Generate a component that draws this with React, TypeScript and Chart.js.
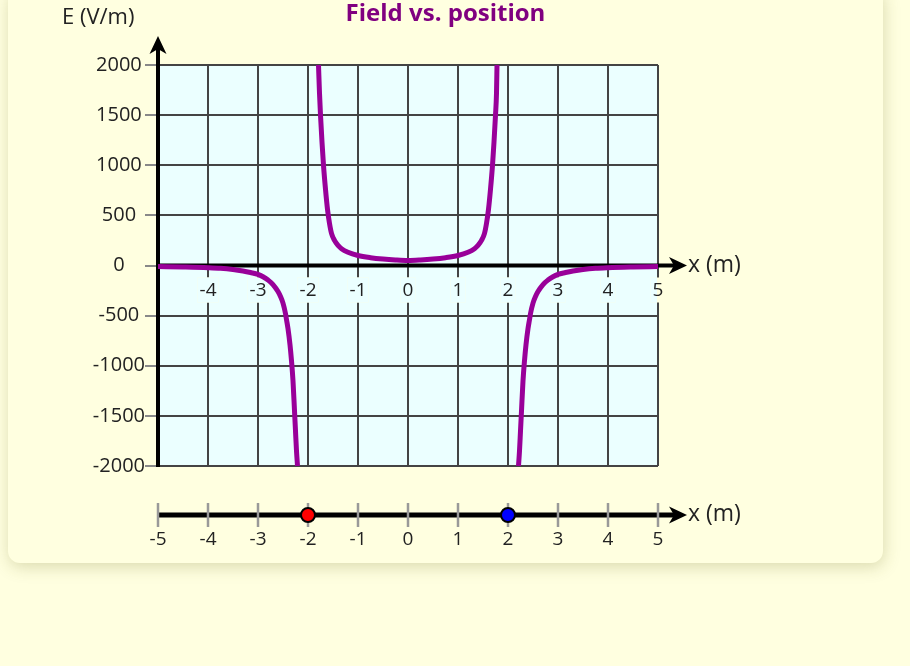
import React, { useEffect, useRef } from 'react';
import { Chart, registerables } from 'chart.js';

Chart.register(...registerables);

// ---- data ----
const X_TICKS = [-5, -4, -3, -2, -1, 0, 1, 2, 3, 4, 5];
const Y_TICKS = [-2000, -1500, -1000, -500, 0, 500, 1000, 1500, 2000];

const LEFT_X = [-5, -4.5, -4, -3.75, -3.5, -3.3, -3.15, -3, -2.9, -2.8, -2.7, -2.6, -2.55, -2.5, -2.45, -2.43, -2.4, -2.36, -2.33, -2.3, -2.27, -2.25, -2.23, -2.21];
const LEFT_E = [-10, -15, -22, -28, -40, -55, -70, -88, -112, -145, -190, -260, -310, -375, -480, -540, -630, -790, -950, -1150, -1450, -1650, -1850, -2000];

const MID_X = [-1.79, -1.77, -1.75, -1.72, -1.69, -1.65, -1.61, -1.57, -1.53, -1.47, -1.4, -1.33, -1.2, -1, -0.75, -0.5, -0.25, 0, 0.25, 0.5, 0.75, 1, 1.2, 1.33, 1.4, 1.47, 1.53, 1.57, 1.61, 1.65, 1.69, 1.72, 1.75, 1.77, 1.78];
const MID_E = [2000, 1720, 1500, 1230, 1000, 760, 560, 420, 320, 250, 200, 168, 132, 100, 78, 64, 55, 50, 55, 64, 78, 100, 132, 168, 200, 250, 320, 420, 560, 760, 1000, 1230, 1500, 1720, 2000];

const RIGHT_X = [2.21, 2.23, 2.25, 2.27, 2.3, 2.33, 2.36, 2.4, 2.43, 2.45, 2.5, 2.55, 2.6, 2.7, 2.8, 2.9, 3, 3.15, 3.3, 3.5, 3.75, 4, 4.5, 5];
const RIGHT_E = [-2000, -1850, -1650, -1450, -1150, -950, -790, -630, -540, -480, -375, -310, -260, -190, -145, -112, -88, -70, -55, -40, -28, -22, -15, -10];

const CHARGE_X = [-2, 2];
const CHARGE_COLORS = ['#ff0000', '#0000ff'];

const TITLE = 'Field vs. position';
const Y_TITLE = 'E (V/m)';
const X_TITLE = 'x (m)';

// ---- style ----
const FONT = '"Open Sans", sans-serif';
const PAGE_BG = '#ffffe0';
const PLOT_BG = '#ebffff';
const CURVE = '#990099';
const TITLE_COLOR = '#800080';
const TEXT = '#222';

const W = 875;
const H = 575;

function toPts(xs: number[], ys: number[]) {
  return xs.map((x, i) => ({ x, y: ys[i] }));
}

function arrow(ctx: CanvasRenderingContext2D, tipX: number, tipY: number, dir: 'up' | 'right') {
  const len = 18, half = 8.5, notch = 5;
  ctx.beginPath();
  if (dir === 'right') {
    ctx.moveTo(tipX, tipY);
    ctx.lineTo(tipX - len, tipY - half);
    ctx.lineTo(tipX - len + notch, tipY);
    ctx.lineTo(tipX - len, tipY + half);
  } else {
    ctx.moveTo(tipX, tipY);
    ctx.lineTo(tipX - half, tipY + len);
    ctx.lineTo(tipX, tipY + len - notch);
    ctx.lineTo(tipX + half, tipY + len);
  }
  ctx.closePath();
  ctx.fill();
}

const decor = {
  id: 'decor',
  beforeDraw(chart: any) {
    const { ctx, chartArea: a } = chart;
    ctx.save();
    ctx.fillStyle = PLOT_BG;
    ctx.fillRect(a.left, a.top, a.right - a.left, a.bottom - a.top);
    ctx.restore();
  },
  beforeDatasetsDraw(chart: any) {
    const { ctx, chartArea: a } = chart;
    const xs = chart.scales.x;
    const ys = chart.scales.y;
    const y0 = ys.getPixelForValue(0);
    ctx.save();
    // x tick labels on the zero line, with backdrop
    ctx.font = `19px ${FONT}`;
    ctx.textAlign = 'center';
    ctx.textBaseline = 'middle';
    xs.ticks.forEach((t: any) => {
      if (t.value === xs.min) return;
      const px = xs.getPixelForValue(t.value);
      const label = String(t.value);
      const w = ctx.measureText(label).width + 4;
      const rx = px - w / 2, ry = y0 + 12, rh = 25;
      ctx.fillStyle = PAGE_BG;
      ctx.fillRect(rx, ry, w, rh);
      const l = Math.max(rx, a.left), r = Math.min(rx + w, a.right - 1);
      if (r > l) {
        ctx.fillStyle = PLOT_BG;
        ctx.fillRect(l, ry, r - l, rh);
      }
      ctx.fillStyle = TEXT;
      ctx.fillText(label, px, y0 + 25);
    });
    // axes
    const tipX = a.right + 29;
    const tipY = a.top - 29;
    ctx.strokeStyle = '#000';
    ctx.fillStyle = '#000';
    ctx.lineWidth = 4;
    ctx.beginPath();
    ctx.moveTo(a.left, a.bottom + 1);
    ctx.lineTo(a.left, tipY + 12);
    ctx.stroke();
    arrow(ctx, a.left, tipY, 'up');
    ctx.beginPath();
    ctx.moveTo(a.left, y0);
    ctx.lineTo(tipX - 12, y0);
    ctx.stroke();
    arrow(ctx, tipX, y0, 'right');
    ctx.restore();
  },
  afterDraw(chart: any) {
    const { ctx, chartArea: a } = chart;
    const xs = chart.scales.x;
    const ys = chart.scales.y;
    const y0 = ys.getPixelForValue(0);
    const tipX = a.right + 29;
    ctx.save();
    // title
    ctx.fillStyle = TITLE_COLOR;
    ctx.font = `bold 24px ${FONT}`;
    ctx.textAlign = 'center';
    ctx.textBaseline = 'alphabetic';
    ctx.fillText(TITLE, W / 2, 33);
    // y title
    ctx.fillStyle = TEXT;
    ctx.font = `22px ${FONT}`;
    ctx.textAlign = 'left';
    ctx.fillText(Y_TITLE, 54, 36);
    // x title (graph)
    ctx.font = `23px ${FONT}`;
    ctx.fillText(X_TITLE, tipX + 1, y0 + 6);

    // number line
    const ny = a.bottom + 49;
    ctx.strokeStyle = '#000';
    ctx.fillStyle = '#000';
    ctx.lineWidth = 5;
    ctx.beginPath();
    ctx.moveTo(a.left, ny);
    ctx.lineTo(tipX - 12, ny);
    ctx.stroke();
    arrow(ctx, tipX, ny, 'right');
    ctx.fillStyle = TEXT;
    ctx.fillText(X_TITLE, tipX + 1, ny + 6);

    ctx.strokeStyle = '#999';
    ctx.lineWidth = 2.5;
    ctx.font = `19px ${FONT}`;
    ctx.textAlign = 'center';
    ctx.textBaseline = 'middle';
    X_TICKS.forEach((v) => {
      const px = xs.getPixelForValue(v);
      ctx.beginPath();
      ctx.moveTo(px, ny - 12);
      ctx.lineTo(px, ny + 12);
      ctx.stroke();
      ctx.fillStyle = TEXT;
      ctx.fillText(String(v), px, ny + 25);
    });
    // charges
    CHARGE_X.forEach((v, i) => {
      const px = xs.getPixelForValue(v);
      ctx.beginPath();
      ctx.arc(px, ny, 7, 0, Math.PI * 2);
      ctx.fillStyle = CHARGE_COLORS[i];
      ctx.fill();
      ctx.lineWidth = 2;
      ctx.strokeStyle = '#000';
      ctx.stroke();
    });
    ctx.restore();
  },
};

export default function App() {
  const ref = useRef<HTMLCanvasElement>(null);
  useEffect(() => {
    document.body.style.background = PAGE_BG;
    const ds = (xs: number[], es: number[]) => ({
      data: toPts(xs, es),
      borderColor: CURVE,
      borderWidth: 5,
      pointRadius: 0,
      cubicInterpolationMode: 'monotone' as const,
      fill: false,
    });
    const chart = new Chart(ref.current!, {
      type: 'line',
      data: {
        datasets: [ds(LEFT_X, LEFT_E), ds(MID_X, MID_E), ds(RIGHT_X, RIGHT_E)],
      },
      options: {
        responsive: false,
        animation: false,
        devicePixelRatio: 1,
        layout: { padding: { left: 70, right: 225, top: 77, bottom: 97 } },
        plugins: { legend: { display: false }, tooltip: { enabled: false }, title: { display: false } },
        scales: {
          x: {
            type: 'linear',
            min: -5,
            max: 5,
            afterBuildTicks: (s: any) => { s.ticks = X_TICKS.map((v) => ({ value: v })); },
            ticks: { display: false },
            grid: { color: '#444', lineWidth: 2, drawTicks: false },
            border: { display: false },
          },
          y: {
            type: 'linear',
            min: -2000,
            max: 2000,
            afterBuildTicks: (s: any) => { s.ticks = Y_TICKS.map((v) => ({ value: v })); },
            afterFit: (s: any) => { s.width = 80; },
            ticks: {
              crossAlign: 'center',
              padding: 0,
              color: TEXT,
              font: { family: FONT, size: 20 },
              callback: (v: any) => String(v),
            },
            grid: { color: '#444', lineWidth: 2, tickLength: 13, tickColor: '#888', tickWidth: 2 },
            border: { display: false },
          },
        },
      },
      plugins: [decor],
    } as any);
    return () => chart.destroy();
  }, []);
  return (
    <div style={{ position: 'fixed', left: 0, top: 0, width: '100vw', height: '100vh', background: PAGE_BG, overflow: 'hidden' }}>
      <div
        style={{
          position: 'absolute',
          top: -12,
          left: 8,
          width: W,
          height: H,
          background: PAGE_BG,
          borderRadius: 12,
          boxShadow: '1px 4px 16px rgba(110,110,30,0.25)',
        }}
      >
        <canvas ref={ref} width={W} height={H} style={{ display: 'block', width: W, height: H }} />
      </div>
    </div>
  );
}
